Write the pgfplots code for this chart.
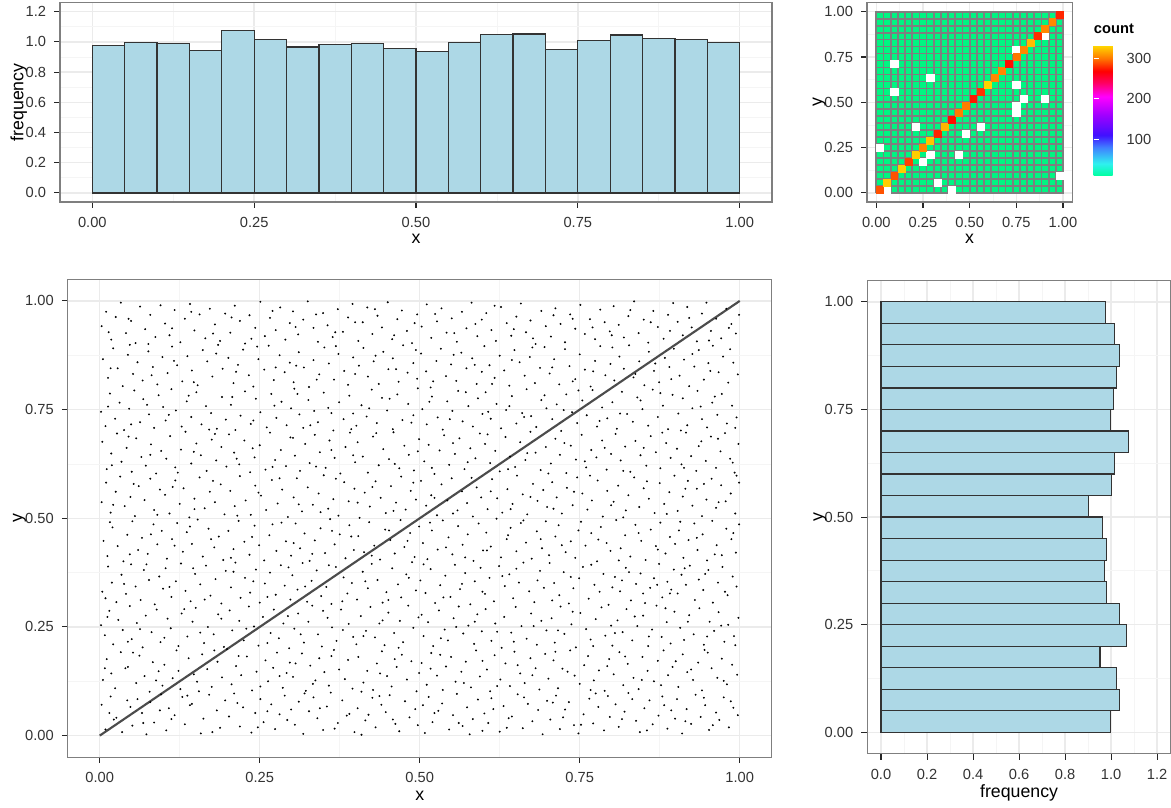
\documentclass[border=0pt]{standalone}
\usepackage{fontspec}
\setmainfont{Liberation Sans}
\usepackage{pgfplots}
\pgfplotsset{compat=1.18}
\usetikzlibrary{calc}

\definecolor{panelline}{HTML}{7F7F7F}
\definecolor{gridmaj}{HTML}{EBEBEB}
\definecolor{gridmin}{HTML}{F5F5F5}
\definecolor{barfill}{HTML}{ADD8E6}
\definecolor{barline}{HTML}{333333}
\definecolor{ticktext}{HTML}{333333}
\definecolor{tilegreen}{HTML}{00F582}
\definecolor{tileline}{HTML}{7F7F7F}
\definecolor{dotcol}{HTML}{444444}
\newcommand{\tickfont}{\fontsize{11}{13}\selectfont}
\newcommand{\titlefont}{\fontsize{13.3}{16}\selectfont}

\pgfplotsset{
  colormap={countmap}{rgb255(10pt)=(0,255,160) rgb255(40pt)=(48,240,240)
    rgb255(80pt)=(64,128,255) rgb255(110pt)=(64,16,255) rgb255(160pt)=(160,0,255)
    rgb255(205pt)=(255,0,255) rgb255(240pt)=(255,0,96) rgb255(268pt)=(255,0,0)
    rgb255(300pt)=(255,120,0) rgb255(331pt)=(255,215,0)},
  ggpanel/.style={scale only axis, anchor=south west,
    axis line style={panelline, line width=0.9pt},
    grid=both, major grid style={gridmaj, line width=1.1pt},
    minor grid style={gridmin, line width=0.6pt},
    tick align=outside, major tick length=4.3pt, minor tick length=0pt,
    tick style={black!85, line width=0.8pt},
    xtick pos=left, ytick pos=left,
    tick label style={font=\tickfont, text=ticktext},
    xticklabel style={anchor=north, inner sep=0pt, yshift=-6.75pt},
    yticklabel style={anchor=east, inner sep=0pt, xshift=-6pt},
    label style={font=\titlefont},
    xlabel style={anchor=base},
    ylabel style={anchor=base}},
  unitticks/.style={xtick={0,0.25,0.5,0.75,1}, xticklabels={0.00,0.25,0.50,0.75,1.00},
    minor xtick={0.125,0.375,0.625,0.875}},
  unityticks/.style={ytick={0,0.25,0.5,0.75,1}, yticklabels={0.00,0.25,0.50,0.75,1.00},
    minor ytick={0.125,0.375,0.625,0.875}},
}

\begin{document}
\begin{tikzpicture}
\useasboundingbox (0,0) rectangle (878.25pt,-605.25pt);

% histogram of x
\begin{axis}[ggpanel, unitticks, at={(45pt,-151.5pt)}, width=534pt, height=149.5pt,
  xmin=-0.05, xmax=1.05, ymin=-0.06, ymax=1.26,
  ytick={0,0.2,0.4,0.6,0.8,1,1.2}, yticklabels={0.0,0.2,0.4,0.6,0.8,1.0,1.2},
  minor ytick={0.1,0.3,0.5,0.7,0.9,1.1},
  xlabel={x}, ylabel={frequency},
  xlabel style={at={([yshift=-31pt]axis description cs:0.5,0)}},
  ylabel style={at={([xshift=-27.5pt]axis description cs:0,0.5)}}]
\addplot[ybar interval, fill=barfill, draw=barline, line width=0.9pt] coordinates {
 (0,0.974)(0.05,0.996)(0.1,0.989)(0.15,0.945)(0.2,1.077)(0.25,1.015)(0.3,0.967)
 (0.35,0.985)(0.4,0.989)(0.45,0.956)(0.5,0.938)(0.55,0.996)(0.6,1.048)(0.65,1.053)
 (0.7,0.952)(0.75,1.009)(0.8,1.046)(0.85,1.022)(0.9,1.015)(0.95,0.998)(1,0.998)};
\end{axis}

% 2d bin counts
\begin{axis}[ggpanel, unitticks, unityticks, at={(650.25pt,-151.5pt)}, width=154pt, height=149.5pt,
  xmin=-0.05, xmax=1.05, ymin=-0.05, ymax=1.05,
  xlabel={x}, ylabel={y},
  xlabel style={at={([yshift=-31pt]axis description cs:0.5,0)}},
  ylabel style={at={([xshift=-33.7pt]axis description cs:0,0.5)}},
  colormap name=countmap, point meta min=10, point meta max=331,
  colorbar,
  colorbar style={at={($(parent axis.north east)+(7.5pt,-32.25pt)$)}, anchor=north west,
    scale only axis, width=20.25pt, height=97.5pt,
    axis line style={draw=none}, axis on top,
    ytick={100,200,300}, yticklabels={100,200,300},
    tick align=inside, major tick length=3.75pt, tick style={white, line width=0.8pt},
    ytick pos=both, yticklabel pos=right,
    yticklabel style={font=\tickfont, text=ticktext, anchor=west, inner sep=0pt, xshift=4.3pt},
    title={\textbf{count}},
    title style={at={(0,1)}, anchor=base west, inner sep=0pt, yshift=3.5pt, font=\tickfont}}]
\addplot[fill=tilegreen, draw=none] coordinates {(0,0)(1,0)(1,1)(0,1)(0,0)};
\addplot[only marks, mark=square*, color=white, mark size=2.7pt] coordinates {
 (0.05769,0.01923)(0.40385,0.01923)(0.32692,0.05769)(0.98077,0.09615)(0.25,0.17308)
 (0.28846,0.21154)(0.44231,0.21154)(0.01923,0.25)(0.48077,0.32692)(0.21154,0.36538)
 (0.55769,0.36538)(0.75,0.44231)(0.75,0.48077)(0.78846,0.51923)(0.90385,0.51923)
 (0.09615,0.55769)(0.75,0.59615)(0.28846,0.63462)(0.09615,0.71154)(0.75,0.78846)(0.90385,0.86538)};
\addplot[scatter, only marks, mark=square*, mark size=2.6pt, point meta=explicit,
  scatter/use mapped color={draw=mapped color, fill=mapped color}] coordinates {
 (0.01923,0.01923)[290] (0.05769,0.05769)[328] (0.09615,0.09615)[290] (0.13462,0.13462)[328]
 (0.17308,0.17308)[285] (0.21154,0.21154)[328] (0.25,0.25)[305] (0.28846,0.28846)[325]
 (0.32692,0.32692)[278] (0.36538,0.36538)[320] (0.40385,0.40385)[272] (0.44231,0.44231)[302]
 (0.48077,0.48077)[302] (0.51923,0.51923)[275] (0.55769,0.55769)[282] (0.59615,0.59615)[330]
 (0.63462,0.63462)[305] (0.67308,0.67308)[305] (0.71154,0.71154)[272] (0.75,0.75)[300]
 (0.78846,0.78846)[305] (0.82692,0.82692)[322] (0.86538,0.86538)[280] (0.90385,0.90385)[305]
 (0.94231,0.94231)[305] (0.98077,0.98077)[278]};
\addplot[tileline, line width=1.3pt] coordinates {
 (0,0)(0,1)(0.03846,1)(0.03846,0)(0.07692,0)(0.07692,1)(0.11538,1)(0.11538,0)
 (0.15385,0)(0.15385,1)(0.19231,1)(0.19231,0)(0.23077,0)(0.23077,1)(0.26923,1)(0.26923,0)
 (0.30769,0)(0.30769,1)(0.34615,1)(0.34615,0)(0.38462,0)(0.38462,1)(0.42308,1)(0.42308,0)
 (0.46154,0)(0.46154,1)(0.5,1)(0.5,0)(0.53846,0)(0.53846,1)(0.57692,1)(0.57692,0)
 (0.61538,0)(0.61538,1)(0.65385,1)(0.65385,0)(0.69231,0)(0.69231,1)(0.73077,1)(0.73077,0)
 (0.76923,0)(0.76923,1)(0.80769,1)(0.80769,0)(0.84615,0)(0.84615,1)(0.88462,1)(0.88462,0)
 (0.92308,0)(0.92308,1)(0.96154,1)(0.96154,0)(1,0)(1,1)};
\addplot[tileline, line width=1.3pt] coordinates {
 (0,0)(1,0)(1,0.03846)(0,0.03846)(0,0.07692)(1,0.07692)(1,0.11538)(0,0.11538)
 (0,0.15385)(1,0.15385)(1,0.19231)(0,0.19231)(0,0.23077)(1,0.23077)(1,0.26923)(0,0.26923)
 (0,0.30769)(1,0.30769)(1,0.34615)(0,0.34615)(0,0.38462)(1,0.38462)(1,0.42308)(0,0.42308)
 (0,0.46154)(1,0.46154)(1,0.5)(0,0.5)(0,0.53846)(1,0.53846)(1,0.57692)(0,0.57692)
 (0,0.61538)(1,0.61538)(1,0.65385)(0,0.65385)(0,0.69231)(1,0.69231)(1,0.73077)(0,0.73077)
 (0,0.76923)(1,0.76923)(1,0.80769)(0,0.80769)(0,0.84615)(1,0.84615)(1,0.88462)(0,0.88462)
 (0,0.92308)(1,0.92308)(1,0.96154)(0,0.96154)(0,1)(1,1)};
\end{axis}

% scatter of the points (values in thousandths)
\begin{axis}[ggpanel, at={(50.8pt,-568pt)}, width=528pt, height=358.6pt,
  xmin=-50, xmax=1050, ymin=-50, ymax=1050,
  xtick={0,250,500,750,1000}, xticklabels={0.00,0.25,0.50,0.75,1.00}, minor xtick={125,375,625,875},
  ytick={0,250,500,750,1000}, yticklabels={0.00,0.25,0.50,0.75,1.00}, minor ytick={125,375,625,875},
  xlabel={x}, ylabel={y},
  xlabel style={at={([yshift=-32.3pt]axis description cs:0.5,0)}},
  ylabel style={at={([xshift=-34pt]axis description cs:0,0.5)}}]
\addplot[only marks, mark=*, mark size=0.5pt, mark options={draw=none, fill=dotcol}] coordinates {
(3,71)(9,14)(17,90)(22,37)(26,41)(35,8)(48,66)(51,23)(59,84)(66,52)(73,3)(79,77)(85,30)(94,58)(96,95)
(104,12)(108,63)(117,47)(129,89)(133,26)(141,70)(144,73)(158,5)(162,39)(171,94)(183,58)(188,18)(196,81)
(202,44)(210,97)(219,21)(224,65)(237,7)(243,52)(251,84)(256,31)(268,72)(274,15)(281,49)(289,92)(293,36)(299,60)
(305,25)(311,78)(318,4)(327,56)(334,88)(340,40)(349,13)(355,67)(361,99)(372,29)(379,81)(386,46)(390,50)(398,8)
(403,63)(409,2)(415,35)(426,87)(431,19)(440,71)(447,54)(453,93)(462,27)(468,10)(477,79)(484,42)(493,61)(497,24)
(508,6)(514,89)(520,31)(529,57)(535,74)(546,14)(552,47)(558,96)(567,22)(574,65)(583,38)(591,83)(598,11)
(601,51)(607,29)(612,86)(625,9)(631,68)(639,40)(644,44)(653,95)(661,17)(669,73)(676,33)(685,59)(692,3)(699,80)
(704,37)(713,92)(719,15)(727,60)(733,77)(741,24)(748,5)(756,49)(765,85)(771,28)(779,66)(788,12)(794,91)(797,43)
(806,72)(811,20)(820,55)(826,98)(838,34)(844,8)(851,63)(859,81)(864,26)(873,46)(879,90)(887,16)(893,58)(899,39)
(902,84)(910,5)(917,61)(924,27)(931,94)(939,43)(946,70)(952,13)(963,53)(968,36)(975,88)(983,19)(990,64)(997,47)
(15,52)(43,81)(68,29)(112,38)(137,92)(176,8)(215,75)(247,19)(262,56)(320,97)(344,63)(367,16)(420,48)(437,91)(458,37)(505,70)(523,52)(561,29)(578,3)(615,61)(636,18)(663,88)(708,76)(724,42)(752,25)(775,97)(816,38)(832,84)(855,12)(882,70)(915,33)(944,87)(958,24)(986,79)
(5,128)(11,176)(18,143)(24,109)(33,192)(40,155)(44,158)(57,121)(62,184)(70,137)(78,101)(83,169)(92,148)(98,115)
(101,163)(114,132)(120,196)(126,107)(139,178)(147,141)(152,124)(160,187)(168,153)(175,112)(184,170)(191,134)(199,199)
(206,118)(213,160)(221,139)(230,182)(238,104)(245,147)(259,173)(263,125)(271,156)(277,191)(286,110)(292,144)(297,168)
(302,135)(316,189)(322,103)(329,161)(337,127)(343,178)(351,146)(358,115)(366,197)(374,152)(383,130)(388,174)(395,108)
(404,181)(412,122)(418,149)(427,105)(433,166)(441,194)(449,137)(456,113)(464,158)(472,186)(480,129)(487,171)(495,102)(499,144)
(503,167)(511,117)(518,190)(527,138)(536,105)(541,159)(549,181)(556,124)(565,147)(572,170)(580,111)(588,196)(594,136)
(605,152)(610,102)(617,185)(626,129)(634,166)(641,114)(648,193)(657,143)(664,121)(673,178)(681,155)(687,106)(696,188)
(701,131)(709,173)(716,109)(723,154)(735,196)(742,138)(750,119)(757,162)(763,183)(772,127)(780,150)(789,103)(796,176)
(803,141)(812,192)(818,116)(825,165)(834,133)(842,107)(848,181)(856,149)(866,125)(872,172)(881,196)(888,139)(895,158)
(904,112)(911,187)(918,146)(927,128)(935,168)(941,104)(950,191)(956,155)(965,133)(972,177)(980,118)(988,163)(996,140)
(8,155)(52,191)(88,127)(123,149)(155,102)(179,196)(217,183)(251,113)(281,137)(306,166)(333,119)(362,183)(409,101)(438,143)(461,176)(517,154)(532,186)(569,121)(598,172)(621,114)(653,162)(676,139)(712,193)(731,147)(767,105)(793,160)(821,182)(847,128)(877,116)(900,171)(924,152)(945,197)(975,126)
(2,254)(8,231)(15,287)(21,210)(29,266)(36,243)(47,298)(50,222)(58,259)(67,203)(72,276)(81,238)(89,290)(95,215)
(106,269)(111,247)(123,206)(128,281)(137,228)(145,262)(150,294)(163,213)(169,250)(178,233)(185,279)(194,204)
(203,288)(207,242)(218,264)(225,219)(233,297)(241,251)(248,207)(255,273)(267,236)(272,290)(280,224)(287,258)(296,201)
(304,246)(310,281)(319,214)(326,262)(332,299)(341,233)(347,205)(356,271)(363,249)(370,218)(377,290)(389,257)(396,227)
(401,210)(408,275)(416,241)(423,296)(430,226)(437,258)(445,208)(451,283)(460,236)(469,264)(474,215)(482,299)(490,248)(498,272)
(506,229)(513,261)(521,206)(530,288)(539,244)(544,219)(553,270)(561,297)(568,235)(576,253)(585,211)(590,279)(597,240)
(603,291)(612,218)(618,258)(628,202)(632,273)(643,237)(650,296)(659,252)(667,223)(674,281)(683,209)(690,264)(698,242)
(706,270)(711,214)(720,297)(726,234)(737,256)(744,203)(751,282)(760,245)(767,221)(775,268)(784,295)(790,230)(799,253)
(801,207)(809,265)(817,238)(823,291)(832,219)(840,252)(849,276)(857,206)(863,244)(870,299)(878,227)(886,261)(892,212)(898,285)
(907,248)(913,220)(921,277)(928,233)(937,293)(944,209)(953,262)(960,241)(967,284)(976,216)(982,255)(991,229)(998,271)
(12,273)(44,216)(63,245)(101,225)(132,291)(157,237)(190,269)(229,246)(262,213)(294,275)(314,233)(349,287)(380,243)(412,229)(442,265)(467,202)(503,278)(533,224)(557,250)(586,262)(621,239)(647,216)(678,252)(716,242)(739,285)(771,206)(805,236)(836,274)(858,228)(884,293)(919,262)(949,228)(971,253)(993,208)
(4,331)(13,389)(19,352)(26,307)(34,370)(41,326)(49,394)(56,343)(64,312)(69,381)(77,358)(86,302)(93,366)(99,338)
(103,385)(112,319)(119,355)(127,396)(134,333)(142,309)(149,372)(157,348)(166,391)(173,322)(181,360)(190,304)(197,379)
(205,341)(212,398)(220,317)(227,363)(235,329)(244,382)(250,306)(258,350)(266,375)(275,324)(283,392)(289,345)(298,313)
(301,369)(309,336)(317,397)(324,308)(331,356)(339,380)(346,321)(354,342)(362,303)(369,388)(381,364)(387,327)(394,351)
(402,313)(411,377)(419,339)(425,395)(434,358)(442,306)(448,330)(457,385)(466,348)(471,318)(479,371)(488,399)(494,334)
(501,357)(509,328)(517,383)(524,305)(532,346)(540,368)(548,319)(555,393)(563,337)(571,374)(579,302)(586,355)(595,386)
(602,326)(609,363)(616,309)(624,390)(633,344)(640,371)(646,316)(655,352)(662,398)(671,332)(679,307)(688,379)(694,340)
(703,397)(710,351)(718,323)(725,376)(733,304)(740,339)(749,362)(755,388)(764,315)(773,347)(781,331)(787,372)(795,301)
(805,365)(813,332)(816,357)(822,386)(830,311)(838,349)(845,373)(852,305)(860,340)(866,362)(874,395)(879,318)(887,354)(893,336)(897,382)
(903,327)(909,370)(916,347)(922,391)(930,312)(936,359)(943,335)(951,381)(958,306)(966,352)(973,388)(981,323)(989,366)(995,343)
(9,316)(38,349)(73,394)(109,342)(146,385)(164,313)(209,377)(240,355)(262,319)(295,387)(321,343)(358,392)(379,309)(415,355)(451,312)(483,363)(506,394)(537,318)(566,349)(598,331)(629,367)(651,384)(684,357)(707,311)(736,365)(768,393)(801,341)(827,376)(849,327)(871,347)(891,327)(914,385)(946,372)(977,331)
(6,448)(12,413)(20,479)(28,436)(37,401)(43,462)(51,493)(60,427)(66,455)(75,418)(84,486)(90,440)(97,471)
(105,407)(113,452)(121,489)(130,423)(136,468)(144,441)(153,497)(161,412)(170,476)(179,433)(186,458)(193,404)
(201,471)(209,429)(217,494)(226,446)(234,416)(242,483)(249,438)(257,403)(265,461)(276,425)(284,490)(291,447)(299,414)
(306,488)(313,431)(320,465)(328,402)(336,449)(345,477)(352,420)(360,498)(367,440)(375,463)(384,408)(390,484)(397,427)
(404,459)(413,422)(421,491)(429,437)(438,405)(446,474)(454,450)(461,419)(470,496)(476,434)(485,466)(492,411)(499,481)
(505,443)(512,406)(519,472)(528,428)(536,495)(545,456)(551,417)(560,482)(567,439)(575,463)(584,402)(592,488)(599,426)
(604,467)(611,435)(620,499)(627,410)(636,452)(642,478)(651,424)(658,489)(666,444)(675,407)(683,470)(691,431)(697,493)
(702,415)(712,458)(717,484)(728,422)(736,447)(743,409)(752,492)(759,437)(768,466)(777,401)(783,480)(792,443)(798,425)
(807,496)(814,431)(821,461)(829,412)(837,485)(846,448)(853,404)(861,474)(869,436)(876,490)(884,419)(891,457)(899,441)
(905,472)(912,409)(920,450)(929,488)(934,427)(942,463)(949,403)(957,494)(964,438)(972,415)(979,476)(987,452)(994,421)(999,486)
(16,491)(47,417)(80,463)(117,437)(141,481)(174,452)(205,409)(238,457)(270,486)(303,443)(332,418)(363,471)(393,458)(425,414)(452,472)(481,448)(516,490)(541,433)(571,410)(605,426)(638,461)(662,495)(689,452)(722,438)(748,472)(779,451)(811,403)(842,466)(872,428)(907,492)(933,455)(961,417)(990,466)
(3,537)(10,582)(17,513)(25,561)(32,596)(39,528)(48,549)(55,505)(61,574)(70,542)(79,591)(85,519)(94,566)
(102,554)(109,511)(118,587)(125,533)(131,569)(140,502)(148,545)(156,594)(164,523)(172,561)(180,537)(189,578)(195,509)
(204,563)(211,528)(219,597)(228,541)(236,508)(243,575)(252,552)(260,519)(269,588)(278,534)(285,566)(294,503)
(303,548)(308,592)(316,516)(325,571)(333,531)(342,557)(350,599)(357,522)(365,544)(373,506)(382,583)(389,539)(398,568)
(406,501)(414,559)(422,527)(431,585)(439,547)(447,512)(455,574)(463,536)(471,596)(478,520)(486,563)(494,543)
(502,586)(510,529)(518,553)(527,507)(534,578)(543,541)(550,592)(559,518)(566,562)(574,535)(583,504)(589,571)(596,548)
(606,521)(613,590)(621,546)(629,513)(637,567)(645,533)(652,598)(661,555)(668,509)(677,579)(684,540)(693,565)(699,526)
(707,583)(714,548)(722,511)(730,570)(739,530)(746,594)(754,557)(762,520)(769,541)(778,587)(786,504)(793,563)
(803,538)(810,575)(818,502)(826,553)(835,594)(843,526)(850,569)(858,545)(867,512)(875,581)(882,533)(890,560)(898,598)
(903,517)(911,550)(919,586)(926,529)(933,568)(941,505)(948,543)(956,591)(963,524)(971,576)(978,539)(986,557)(993,511)(999,582)
(21,531)(53,579)(90,508)(114,572)(148,521)(177,586)(215,506)(248,559)(281,592)(311,532)(345,514)(369,591)(403,536)(426,572)(459,517)(490,582)(523,547)(552,511)(581,593)(611,562)(642,521)(673,549)(709,522)(741,561)(766,598)(799,530)(822,518)(855,585)(886,510)(915,568)(944,579)(967,537)(995,598)
(4,676)(11,613)(18,649)(27,695)(34,630)(42,662)(50,607)(57,684)(65,641)(72,621)(80,670)(88,603)(96,655)
(104,637)(110,689)(118,617)(127,658)(134,699)(143,626)(151,672)(158,645)(167,609)(175,681)(182,633)(190,664)(198,619)
(202,693)(210,651)(218,624)(226,679)(235,606)(242,640)(250,668)(259,612)(266,697)(274,634)(283,657)(291,620)(298,686)
(305,644)(313,609)(321,671)(328,627)(336,692)(344,652)(353,616)(359,679)(367,639)(376,603)(384,664)(391,697)(399,629)
(403,675)(411,642)(419,605)(427,688)(436,622)(443,659)(452,636)(459,698)(468,615)(476,667)(483,646)(491,610)(499,682)
(507,631)(514,669)(523,602)(531,656)(538,691)(546,623)(555,648)(562,684)(570,613)(579,661)(587,638)(594,695)
(602,671)(610,627)(618,655)(625,608)(634,687)(641,642)(649,618)(657,675)(665,634)(673,699)(681,651)(689,611)(697,664)
(705,626)(712,683)(719,646)(729,604)(736,667)(744,635)(753,692)(760,617)(768,657)(776,640)(785,679)(792,612)(799,648)
(806,694)(814,633)(821,665)(829,607)(837,678)(845,645)(854,621)(861,689)(869,652)(876,615)(885,673)(892,639)
(902,660)(909,624)(916,697)(924,643)(932,609)(940,677)(947,632)(955,688)(963,616)(970,654)(977,696)(985,637)(992,605)(998,671)
(19,622)(45,688)(79,646)(122,605)(147,653)(180,694)(214,637)(239,661)(270,618)(302,685)(338,619)(362,657)(396,645)(432,696)(461,625)(497,654)(519,616)(552,673)(575,629)(606,693)(638,613)(668,650)(701,603)(726,673)(758,631)(789,662)(818,609)(850,662)(879,697)(913,616)(936,666)(966,683)(989,628)
(2,745)(9,712)(16,787)(24,729)(31,766)(38,703)(46,752)(54,794)(63,721)(68,774)(77,739)(85,708)(92,783)(99,756)
(103,725)(112,797)(119,748)(128,711)(136,769)(143,733)(151,790)(159,716)(166,758)(174,742)(183,706)(191,779)(197,727)
(205,761)(212,703)(220,736)(227,792)(236,717)(244,775)(251,744)(261,709)(268,786)(276,731)(284,768)(292,714)(299,753)
(304,798)(312,739)(318,708)(326,772)(335,747)(341,721)(350,789)(357,754)(365,702)(374,767)(381,728)(390,782)(396,741)
(401,713)(409,760)(417,734)(425,796)(433,719)(441,777)(449,748)(458,705)(465,785)(473,726)(482,763)(490,737)(497,799)
(504,751)(511,716)(519,780)(528,732)(536,704)(543,769)(551,747)(560,793)(567,723)(576,758)(583,711)(591,776)(598,740)
(603,790)(611,729)(620,763)(627,707)(635,749)(644,781)(651,718)(660,742)(667,797)(674,735)(682,710)(690,772)(698,753)
(707,728)(714,762)(721,701)(729,785)(738,744)(746,719)(754,771)(761,737)(770,795)(777,711)(785,755)(793,730)
(801,767)(808,706)(816,791)(824,740)(833,722)(840,778)(848,751)(857,713)(864,796)(872,733)(880,759)(888,705)(895,784)
(904,741)(911,776)(918,714)(926,753)(934,793)(941,728)(949,709)(957,766)(965,738)(972,786)(980,718)(988,759)(995,732)
(13,757)(49,716)(74,761)(108,738)(139,782)(171,704)(207,779)(240,725)(273,759)(309,786)(329,714)(362,742)(393,705)(421,753)(453,775)(487,720)(515,768)(547,728)(572,790)(607,745)(640,758)(663,733)(695,783)(725,749)(748,794)(781,724)(813,741)(845,771)(876,788)(908,702)(939,757)(961,780)(993,708)
(5,866)(13,823)(21,891)(28,845)(36,804)(44,876)(52,832)(59,859)(67,817)(76,884)(83,848)(90,808)(98,871)
(106,834)(113,895)(121,852)(129,815)(137,873)(144,840)(153,806)(161,887)(168,861)(176,826)(185,899)(192,844)
(201,869)(209,811)(216,853)(224,888)(233,829)(240,803)(248,866)(257,842)(264,897)(272,818)(281,875)(289,836)(297,858)
(303,813)(311,882)(319,847)(327,802)(334,864)(343,831)(351,893)(358,856)(366,819)(373,878)(382,839)(388,807)(396,870)
(405,851)(412,892)(419,826)(428,861)(436,809)(443,883)(451,843)(458,868)(467,814)(474,898)(481,835)(490,857)(496,821)
(502,879)(510,838)(517,801)(526,862)(533,890)(541,827)(549,854)(557,816)(565,881)(573,845)(582,868)(589,809)(597,837)
(601,896)(609,852)(617,823)(625,874)(632,840)(640,805)(648,887)(656,859)(664,828)(672,871)(680,811)(688,846)(695,894)
(703,833)(710,866)(718,808)(727,889)(734,850)(743,820)(750,877)(758,842)(767,803)(774,862)(782,896)(790,829)(798,855)
(804,817)(812,872)(819,844)(827,898)(834,824)(843,861)(851,806)(858,883)(866,839)(874,813)(883,869)(890,848)(897,890)
(906,828)(913,865)(921,804)(929,849)(936,887)(944,819)(951,857)(958,897)(967,836)(974,872)(982,812)(990,858)(997,831)
(17,845)(47,899)(81,829)(116,862)(147,813)(182,879)(213,837)(246,895)(275,847)(307,851)(339,819)(369,896)(399,832)(431,874)(463,843)(494,887)(521,815)(553,876)(586,853)(613,809)(644,864)(676,893)(707,847)(739,815)(771,838)(801,893)(837,832)(868,856)(893,820)(926,878)(954,839)(985,889)
(3,942)(10,975)(18,911)(25,963)(33,996)(41,926)(49,954)(56,903)(63,987)(71,935)(79,968)(87,917)(95,990)
(102,948)(109,921)(117,979)(126,905)(133,959)(141,993)(148,932)(156,969)(165,914)(172,982)(180,946)(188,908)(196,971)
(204,927)(211,989)(219,954)(227,902)(234,967)(243,938)(251,998)(258,919)(266,961)(275,933)(282,985)(290,911)(297,949)
(302,976)(310,923)(318,957)(325,999)(334,938)(341,906)(349,972)(356,944)(364,917)(372,981)(380,929)(388,962)(395,993)
(404,908)(411,951)(418,985)(426,924)(434,966)(441,939)(450,997)(457,912)(465,958)(472,978)(480,931)(488,903)(496,969)
(503,941)(511,992)(518,915)(527,953)(534,983)(542,927)(550,960)(558,906)(566,975)(573,937)(581,996)(590,919)(597,957)
(604,972)(612,933)(619,908)(627,986)(636,949)(643,920)(651,964)(658,994)(666,928)(673,955)(681,901)(690,977)(697,942)
(705,918)(712,983)(720,947)(727,905)(735,969)(743,936)(751,991)(758,924)(766,958)(774,912)(782,980)(789,951)(797,930)
(803,988)(811,945)(819,916)(826,965)(835,999)(842,926)(850,957)(857,904)(865,977)(872,940)(881,913)(888,968)(896,995)
(903,952)(911,921)(918,986)(925,939)(933,907)(941,971)(948,996)(955,931)(963,959)(971,914)(979,982)(987,947)(994,925)(999,968)
(14,928)(45,959)(76,901)(113,937)(143,975)(177,925)(206,962)(237,913)(270,977)(306,940)(338,969)(368,928)(399,951)(430,981)(460,921)(492,949)(524,970)(554,926)(587,947)(617,989)(647,935)(677,914)(709,967)(739,959)(770,939)(800,921)(829,979)(861,951)(891,931)(921,961)(952,909)(983,938)
};
\addplot[line width=1.6pt, color=black!70] coordinates {(0,0)(1000,1000)};
\end{axis}

% histogram of y
\begin{axis}[ggpanel, unityticks, at={(650.4pt,-565.4pt)}, width=227.8pt, height=355.2pt,
  xmin=-0.06, xmax=1.26, ymin=-0.05, ymax=1.05,
  xtick={0,0.2,0.4,0.6,0.8,1,1.2}, xticklabels={0.0,0.2,0.4,0.6,0.8,1.0,1.2},
  minor xtick={0.1,0.3,0.5,0.7,0.9,1.1},
  xlabel={frequency}, ylabel={y},
  xlabel style={at={([yshift=-32.5pt]axis description cs:0.5,0)}},
  ylabel style={at={([xshift=-33.2pt]axis description cs:0,0.5)}}]
\addplot[xbar interval, fill=barfill, draw=barline, line width=0.9pt] coordinates {
 (0.999,0)(1.036,0.05)(1.022,0.1)(0.952,0.15)(1.068,0.2)(1.038,0.25)(0.981,0.3)
 (0.971,0.35)(0.981,0.4)(0.961,0.45)(0.903,0.5)(1.001,0.55)(1.014,0.6)(1.075,0.65)
 (0.997,0.7)(1.010,0.75)(1.023,0.8)(1.038,0.85)(1.013,0.9)(0.977,0.95)(0.977,1)};
\end{axis}
\end{tikzpicture}
\end{document}
